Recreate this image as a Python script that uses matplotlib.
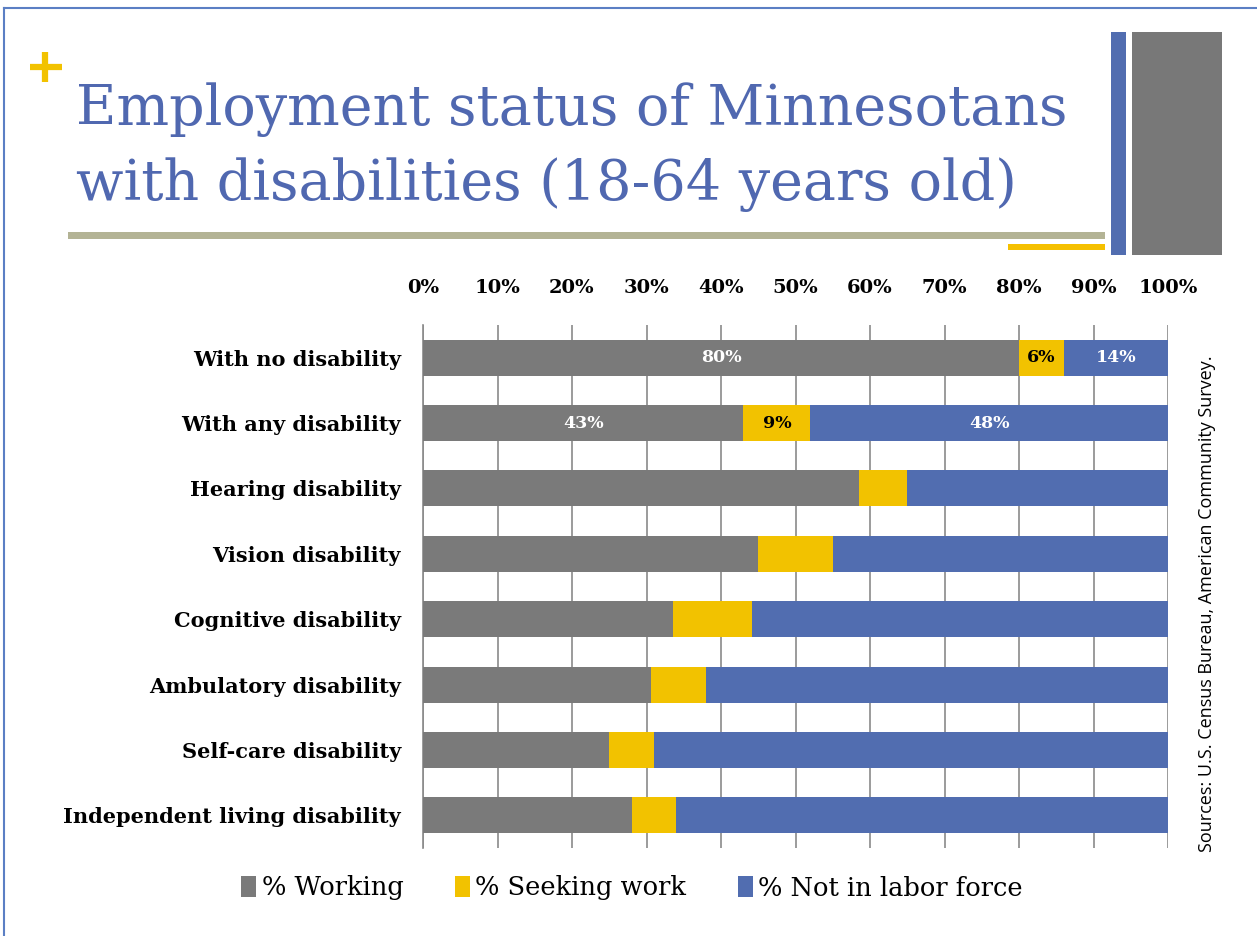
import matplotlib.pyplot as plt
from matplotlib.patches import Rectangle
from matplotlib.lines import Line2D
import numpy as np

# data
categories = ["With no disability", "With any disability", "Hearing disability",
              "Vision disability", "Cognitive disability", "Ambulatory disability",
              "Self-care disability", "Independent living disability"]
working = [80, 43, 58.5, 45, 33.6, 30.6, 25, 28]
seeking = [6, 9, 6.5, 10, 10.6, 7.4, 6, 6]
not_in_lf = [14, 48, 35, 45, 55.8, 62, 69, 66]
series_names = ["% Working", "% Seeking work", "% Not in labor force"]
tick_labels = [f"{v}%" for v in range(0, 101, 10)]
labeled_rows = [0, 1]  # rows that show value labels

C_GRAY = "#7a7a7a"
C_YEL = "#f2c200"
C_BLUE = "#516db0"
TITLE_BLUE = "#5068b0"

W, H = 1257, 936
fig = plt.figure(figsize=(W / 100, H / 100), dpi=100)

# slide decorations (figure pixel coords)
deco = fig.add_axes([0, 0, 1, 1])
deco.set_xlim(0, W)
deco.set_ylim(H, 0)
deco.axis("off")
deco.add_line(Line2D([4, W], [8, 8], color="#5b7fc4", lw=1.5))
deco.add_line(Line2D([4, 4], [8, H], color="#5b7fc4", lw=1.5))
deco.add_line(Line2D([45, 45], [52, 82], color=C_YEL, lw=4.5, solid_capstyle="butt"))
deco.add_line(Line2D([30, 62], [67, 67], color=C_YEL, lw=4.5, solid_capstyle="butt"))
deco.add_patch(Rectangle((68, 232), 1037, 7, color="#b3b395", lw=0))
deco.add_patch(Rectangle((1008, 244), 97, 6, color="#f5c000", lw=0))
deco.add_patch(Rectangle((1111, 32), 15, 223, color=C_BLUE, lw=0))
deco.add_patch(Rectangle((1132, 32), 90, 223, color="#787878", lw=0))

deco.text(76, 110, "Employment status of Minnesotans", fontsize=40,
          family="DejaVu Serif", color=TITLE_BLUE, va="center", ha="left")
deco.text(76, 185, "with disabilities (18-64 years old)", fontsize=40,
          family="DejaVu Serif", color=TITLE_BLUE, va="center", ha="left")
deco.text(1207, 604, "Sources: U.S. Census Bureau, American Community Survey.",
          rotation=90, fontsize=13, family="Open Sans", va="center", ha="center")

# chart
ax = fig.add_axes([423 / W, 1 - 848 / H, (1168 - 423) / W, (848 - 325) / H])
y = np.arange(len(categories))
bh = 0.55
b1 = ax.barh(y, working, height=bh, color=C_GRAY, zorder=3)
b2 = ax.barh(y, seeking, left=working, height=bh, color=C_YEL, zorder=3)
left3 = np.array(working) + np.array(seeking)
b3 = ax.barh(y, not_in_lf, left=left3, height=bh, color=C_BLUE, zorder=3)

for i in labeled_rows:
    ax.text(working[i] / 2, i, f"{working[i]:.0f}%", color="white", fontsize=12.5,
            fontweight="bold", family="DejaVu Serif", ha="center", va="center", zorder=4)
    ax.text(working[i] + seeking[i] / 2, i, f"{seeking[i]:.0f}%", color="black", fontsize=12.5,
            fontweight="bold", family="DejaVu Serif", ha="center", va="center", zorder=4)
    ax.text(left3[i] + not_in_lf[i] / 2, i, f"{not_in_lf[i]:.0f}%", color="white", fontsize=12.5,
            fontweight="bold", family="DejaVu Serif", ha="center", va="center", zorder=4)

ax.set_xlim(0, 100)
ax.set_ylim(len(categories) - 0.5, -0.5)
ax.set_xticks(range(0, 101, 10))
ax.set_xticklabels(tick_labels, fontsize=14, fontweight="bold", family="DejaVu Serif")
ax.xaxis.tick_top()
ax.tick_params(axis="x", length=0, pad=20)
ax.set_yticks(y)
ax.set_yticklabels(categories, fontsize=15, fontweight="bold", family="DejaVu Serif")
ax.tick_params(axis="y", length=0, pad=16)
ax.grid(axis="x", color="#8a8a8a", lw=1.2, zorder=0)
for s in ["top", "right", "bottom"]:
    ax.spines[s].set_visible(False)
ax.spines["left"].set_color("#8a8a8a")
ax.spines["left"].set_linewidth(1.2)

fig.legend([b1, b2, b3], series_names, loc="center", bbox_to_anchor=(632 / W, 1 - 888 / H),
           ncol=3, frameon=False, prop={"family": "DejaVu Serif", "size": 18.5},
           handlelength=0.6, handleheight=0.9, handletextpad=0.2, columnspacing=2.0)

fig.savefig("out.png", dpi=100)
